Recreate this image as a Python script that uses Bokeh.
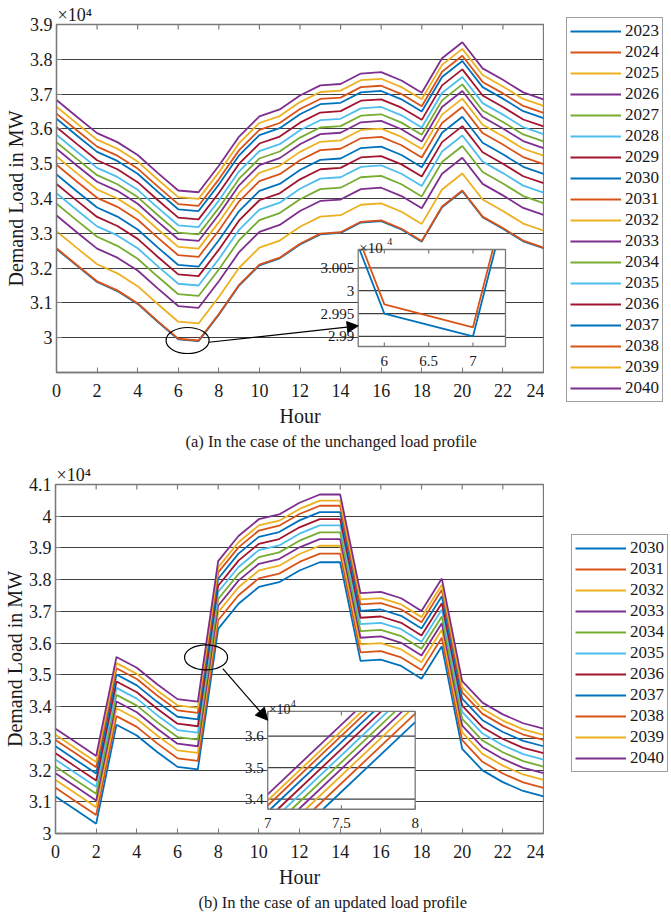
import numpy as np
from math import pi
from bokeh.plotting import figure
from bokeh.layouts import column, row
from bokeh.models import (Range1d, FixedTicker, Legend, LegendItem, Arrow, Title,
                          NormalHead, CustomJSTickFormatter)
from bokeh.core.properties import value
from bokeh.embed import file_html
from bokeh.resources import INLINE

FONT = "Liberation Serif"
TEXT = "#1a1a1a"
FRAME = "#7a7a7a"
GRID = "#3f3f3f"
COLORS = ["#0072BD", "#D95319", "#EDB120", "#7E2F8E", "#77AC30", "#4DBEEE", "#A2142F"]

# ---------------- data (x10^4 MW) ----------------
hours = list(range(25))

# (a) unchanged load profile: 2023 curve and yearly vertical shift
years_a = list(range(2023, 2041))
base_a = [3.255, 3.207, 3.160, 3.134, 3.097, 3.045, 2.995, 2.990, 3.066, 3.150,
          3.208, 3.228, 3.268, 3.297, 3.301, 3.331, 3.335, 3.311, 3.276, 3.375,
          3.421, 3.346, 3.313, 3.277, 3.257]
shift_a = [0.000, 0.002, 0.051, 0.096, 0.130, 0.160, 0.187, 0.214, 0.242, 0.266,
           0.288, 0.307, 0.328, 0.350, 0.374, 0.389, 0.409, 0.428]

# (b) updated load profile: 2030 curve and yearly vertical shift
years_b = list(range(2030, 2041))
base_b = [3.117, 3.074, 3.031, 3.343, 3.309, 3.257, 3.210, 3.202, 3.645, 3.724,
          3.777, 3.792, 3.829, 3.855, 3.855, 3.544, 3.548, 3.528, 3.488, 3.590,
          3.267, 3.199, 3.162, 3.134, 3.117]
shift_b = [0.000, 0.027, 0.052, 0.073, 0.094, 0.116, 0.136, 0.158, 0.178, 0.194, 0.2135]

x_ticks = list(range(0, 25, 2))
y_ticks_a = [3.0, 3.1, 3.2, 3.3, 3.4, 3.5, 3.6, 3.7, 3.8, 3.9]
y_ticks_b = [3.0, 3.1, 3.2, 3.3, 3.4, 3.5, 3.6, 3.7, 3.8, 3.9, 4.0, 4.1]

inset_a_xticks = [6, 6.5, 7]
inset_a_xlabels = ["6", "6.5", "7"]
inset_a_yticks = [2.99, 2.995, 3.0, 3.005]
inset_a_ylabels = ["2.99", "2.995", "3", "3.005"]

inset_b_xticks = [7, 7.5, 8]
inset_b_xlabels = ["7", "7.5", "8"]
inset_b_yticks = [3.4, 3.5, 3.6]
inset_b_ylabels = ["3.4", "3.5", "3.6"]

multiplier = "×10⁴"
caption_a = "(a) In the case of the unchanged load profile"
caption_b = "(b) In the case of an updated load profile"

MAIN_W = 544
LEG_W = 671 - MAIN_W
H = 456


def clip_line(xs, ys, x0, x1, y0, y1):
    ox, oy = [], []
    for i in range(len(xs) - 1):
        ax, ay, bx, by = xs[i], ys[i], xs[i + 1], ys[i + 1]
        dx, dy = bx - ax, by - ay
        t0, t1 = 0.0, 1.0
        ok = True
        for pp, qq in ((-dx, ax - x0), (dx, x1 - ax), (-dy, ay - y0), (dy, y1 - ay)):
            if pp == 0:
                if qq < 0:
                    ok = False
                    break
            else:
                t = qq / pp
                if pp < 0:
                    if t > t1:
                        ok = False
                        break
                    t0 = max(t0, t)
                else:
                    if t < t0:
                        ok = False
                        break
                    t1 = min(t1, t)
        if not ok or t1 <= t0:
            continue
        cx0, cy0 = ax + t0 * dx, ay + t0 * dy
        cx1, cy1 = ax + t1 * dx, ay + t1 * dy
        if ox and abs(ox[-1] - cx0) < 1e-12 and abs(oy[-1] - cy0) < 1e-12:
            ox.append(cx1)
            oy.append(cy1)
        else:
            if ox:
                ox.append(np.nan)
                oy.append(np.nan)
            ox += [cx0, cx1]
            oy += [cy0, cy1]
    return np.array(ox, dtype=float), np.array(oy, dtype=float)


def make_panel(years, base, shifts, y_ticks, yr, borders, caption, cap_off):
    left, right, top, bottom = borders
    p = figure(width=MAIN_W, height=H, output_backend="svg", toolbar_location=None,
               x_range=Range1d(0, 24), y_range=Range1d(*yr),
               min_border_left=left, min_border_right=right,
               min_border_top=top, min_border_bottom=bottom)
    p.background_fill_color = "white"
    p.border_fill_color = "white"
    p.outline_line_color = FRAME
    p.outline_line_width = 1.3
    p.xgrid.visible = False
    p.ygrid.ticker = FixedTicker(ticks=y_ticks)
    p.ygrid.grid_line_color = GRID
    p.ygrid.grid_line_width = 1.2
    for ax in (p.xaxis[0], p.yaxis[0]):
        ax.axis_line_color = FRAME
        ax.axis_line_width = 1.3
        ax.major_tick_line_color = FRAME
        ax.major_tick_in = 5
        ax.major_tick_out = 0
        ax.minor_tick_line_color = None
        ax.major_label_text_font = FONT
        ax.major_label_text_font_size = "18px"
        ax.major_label_text_color = TEXT
        ax.axis_label_text_font = FONT
        ax.axis_label_text_font_size = "20px"
        ax.axis_label_text_font_style = "normal"
        ax.axis_label_text_color = TEXT
    p.xaxis[0].ticker = FixedTicker(ticks=x_ticks)
    p.yaxis[0].ticker = FixedTicker(ticks=y_ticks)
    p.yaxis[0].formatter = CustomJSTickFormatter(code="return String(Math.round(tick*1000)/1000);")
    p.xaxis[0].major_label_standoff = 11
    p.yaxis[0].major_label_standoff = 4
    p.xaxis[0].axis_label_standoff = 5
    p.yaxis[0].axis_label_standoff = 0
    p.xaxis[0].axis_label = "Hour"
    p.yaxis[0].axis_label = "Demand Load in MW"

    # x10^4 multiplier above the top-left corner
    p.title.text = multiplier
    p.title.align = "left"
    p.title.offset = 1
    p.title.standoff = 0
    p.title.text_font = FONT
    p.title.text_font_size = "18px"
    p.title.text_font_style = "normal"
    p.title.text_color = TEXT
    p.title.vertical_align = "bottom"

    # top ticks (inward)
    p.ray(x=x_ticks, y=[yr[1]] * len(x_ticks), length=5, length_units="screen",
          angle=-pi / 2, line_color=FRAME, line_width=1.2)

    for i, s in enumerate(shifts):
        vals = [b + s for b in base]
        p.line(hours, vals, line_color=COLORS[i % 7], line_width=1.8)

    cap = Title(text=caption, align="left", offset=cap_off, standoff=0,
                text_font=FONT, text_font_size="16.5px", text_font_style="normal",
                text_color=TEXT, vertical_align="bottom")
    p.add_layout(cap, "below")
    return p


def make_legend(years, base, shifts, loc):
    # legend-only figure whose frame fills the whole figure
    lf = figure(width=LEG_W, height=H, output_backend="svg", toolbar_location=None,
                x_range=Range1d(100, 101), y_range=Range1d(100, 101),
                x_axis_location=None, y_axis_location=None,
                min_border=0, title=None)
    lf.frame_align = False
    lf.outline_line_color = None
    lf.grid.visible = False
    lf.background_fill_color = "white"
    lf.border_fill_color = "white"
    items = []
    for i, (y, s) in enumerate(zip(years, shifts)):
        vals = [b + s for b in base]
        # the same series, out of this blank frame's view: only the legend shows
        r = lf.line(hours, vals, line_color=COLORS[i % 7], line_width=1.8)
        items.append(LegendItem(label=value(str(y)), renderers=[r]))
    leg = Legend(items=items, location=loc, orientation="vertical",
                 padding=3, margin=0, spacing=1, glyph_width=51, glyph_height=20,
                 label_height=20, label_standoff=4, label_text_font=FONT,
                 label_text_font_size="17px", label_text_color=TEXT,
                 border_line_color="#404040", border_line_width=1,
                 background_fill_color="white", background_fill_alpha=1)
    lf.add_layout(leg)
    return lf


def add_inset(p, base, shifts, src_x, src_y, tgt_x, tgt_y,
              xt, xl, yt, yl, font_px, mult_px, sup_dx):
    xy = p.subplot(x_source=Range1d(*src_x), y_source=Range1d(*src_y),
                   x_target=Range1d(*tgt_x), y_target=Range1d(*tgt_y))
    xy.quad(left=[src_x[0]], right=[src_x[1]], bottom=[src_y[0]], top=[src_y[1]],
            fill_color="white", line_color=None)
    n = len(yt)
    xy.segment(x0=[src_x[0]] * n, x1=[src_x[1]] * n, y0=yt, y1=yt,
               line_color=GRID, line_width=1.2)
    for i, s in enumerate(shifts):
        vals = [b + s for b in base]
        cx, cy = clip_line(hours, vals, src_x[0], src_x[1], src_y[0], src_y[1])
        if len(cx):
            xy.line(cx, cy, line_color=COLORS[i % 7], line_width=1.8)
    xy.quad(left=[src_x[0]], right=[src_x[1]], bottom=[src_y[0]], top=[src_y[1]],
            fill_color=None, line_color=FRAME, line_width=1.3)
    m = len(xt)
    xy.ray(x=xt, y=[src_y[0]] * m, length=4, length_units="screen", angle=pi / 2,
           line_color=FRAME, line_width=1.2)
    xy.ray(x=xt, y=[src_y[1]] * m, length=4, length_units="screen", angle=-pi / 2,
           line_color=FRAME, line_width=1.2)
    xy.text(x=[src_x[0]] * n, y=yt, text=yl, text_align="right", text_baseline="middle",
            x_offset=-4, text_font=value(FONT), text_font_size=font_px, text_color=TEXT)
    xy.text(x=xt, y=[src_y[0]] * m, text=xl, text_align="center", text_baseline="middle",
            y_offset=14, text_font=value(FONT), text_font_size=font_px, text_color=TEXT)
    xy.text(x=[src_x[0]], y=[src_y[1]], text=["×10"], text_align="left",
            text_baseline="alphabetic", x_offset=1, y_offset=-2,
            text_font=value(FONT), text_font_size=mult_px, text_color=TEXT)
    xy.text(x=[src_x[0]], y=[src_y[1]], text=["4"], text_align="left",
            text_baseline="alphabetic", x_offset=sup_dx, y_offset=-8,
            text_font=value(FONT), text_font_size="10px", text_color=TEXT)


# ---------------- panel (a) ----------------
pa = make_panel(years_a, base_a, shift_a, y_ticks_a, (2.9, 3.9), (56, 1, 24, 84),
                caption_a, 129)
add_inset(pa, base_a, shift_a,
          (5.705, 7.367), (2.9878, 3.009), (14.868, 22.127), (2.9747, 3.2534),
          inset_a_xticks, inset_a_xlabels, inset_a_yticks, inset_a_ylabels,
          "15px", "15px", 29)
pa.ellipse(x=[6.46], y=[2.992], width=43, height=26, width_units="screen",
           height_units="screen", fill_color=None, line_color="black", line_width=1.2)
pa.add_layout(Arrow(x_start=7.506, y_start=2.987, x_end=14.868, y_end=3.034,
                    line_color="black", line_width=1.2,
                    end=NormalHead(size=11, fill_color="black", line_color="black")))
la = make_legend(years_a, base_a, shift_a, (22, H - 402))

# ---------------- panel (b) ----------------
pb = make_panel(years_b, base_b, shift_b, y_ticks_b, (3.0, 4.1), (54, 1, 28, 79),
                caption_b, 143)
add_inset(pb, base_b, shift_b,
          (7.0, 8.0), (3.368, 3.679), (10.437, 17.69), (3.0764, 3.385),
          inset_b_xticks, inset_b_xlabels, inset_b_yticks, inset_b_ylabels,
          "15px", "14px", 23)
pb.ellipse(x=[7.405], y=[3.555], width=43, height=25, width_units="screen",
           height_units="screen", fill_color=None, line_color="black", line_width=1.2)
pb.add_layout(Arrow(x_start=8.226, y_start=3.5195, x_end=10.437, y_end=3.357,
                    line_color="black", line_width=1.2,
                    end=NormalHead(size=12, fill_color="black", line_color="black")))
lb = make_legend(years_b, base_b, shift_b, (27, H - (772 - H)))

layout = column(row(pa, la, spacing=0), row(pb, lb, spacing=0), spacing=0)
open("out.html", "w").write(file_html(layout, INLINE))
